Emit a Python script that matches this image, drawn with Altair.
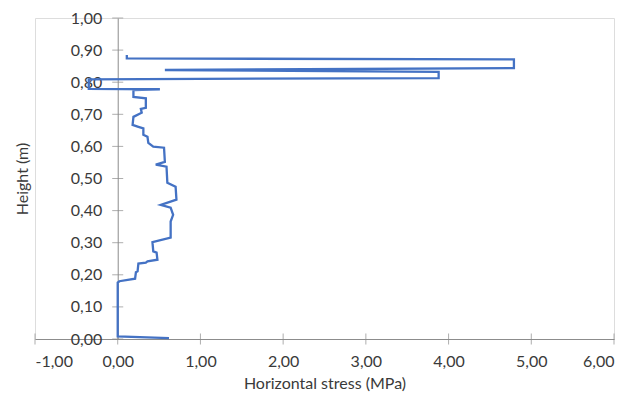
import altair as alt
import pandas as pd

# Horizontal stress (MPa) vs height (m), in drawing order
stress = [0.11, 0.11, 4.79, 4.79, 0.57, 3.88, 3.88, -0.35, -0.35, 0.51,
          0.19, 0.19, 0.34, 0.34, 0.28, 0.29, 0.19, 0.18, 0.25, 0.31,
          0.31, 0.36, 0.37, 0.43, 0.56, 0.57, 0.46, 0.59, 0.60, 0.70,
          0.71, 0.52, 0.64, 0.67, 0.64, 0.64, 0.42, 0.43, 0.47, 0.48,
          0.36, 0.34, 0.25, 0.24, 0.22, 0.21, 0.02, 0.00, 0.00, 0.00,
          0.62]
height = [0.885, 0.874, 0.871, 0.844, 0.838, 0.832, 0.813, 0.809, 0.779, 0.778,
          0.775, 0.754, 0.750, 0.720, 0.717, 0.705, 0.692, 0.667, 0.661, 0.656,
          0.636, 0.630, 0.611, 0.599, 0.596, 0.552, 0.543, 0.537, 0.487, 0.474,
          0.434, 0.418, 0.409, 0.387, 0.366, 0.316, 0.302, 0.273, 0.269, 0.247,
          0.242, 0.238, 0.235, 0.211, 0.208, 0.188, 0.180, 0.176, 0.123, 0.008,
          0.003]

x_ticks = [-1, 0, 1, 2, 3, 4, 5, 6]
y_ticks = [0.0, 0.1, 0.2, 0.3, 0.4, 0.5, 0.6, 0.7, 0.8, 0.9, 1.0]

df = pd.DataFrame({"stress": stress, "height": height, "idx": list(range(len(stress)))})
xt = pd.DataFrame({"stress": x_ticks, "height": [0.0] * len(x_ticks)})
yt = pd.DataFrame({"stress": [0.0] * len(y_ticks), "height": y_ticks})

W, H = 579, 321
FONT = "Lato"
FS = 16
TXT = "#3a3a3a"
AX = "#8c8c8c"
LBL = "replace(replace(format(datum.value, '.2f'), '.', ','), '\u2212', '-')"

x_axis = alt.Axis(values=x_ticks, labelExpr=LBL,
                  title="Horizontal stress (MPa)", grid=False, ticks=False, tickSize=0,
                  domainColor=AX, domainWidth=1, labelPadding=14, titlePadding=6,
                  labelFont=FONT, titleFont=FONT, labelFontSize=FS, titleFontSize=FS,
                  labelColor=TXT, titleColor=TXT, titleFontWeight="normal")
y_axis = alt.Axis(values=y_ticks, labelExpr=LBL,
                  title="Height (m)", grid=False, ticks=False, tickSize=0,
                  domainColor=AX, domainWidth=1, labelPadding=16, titlePadding=40,
                  offset=-W / 7.0,
                  labelFont=FONT, titleFont=FONT, labelFontSize=FS, titleFontSize=FS,
                  labelColor=TXT, titleColor=TXT, titleFontWeight="normal")

xs = alt.Scale(domain=[-1, 6], nice=False, zero=False)
ys = alt.Scale(domain=[0, 1], nice=False, zero=False)

xtick = alt.Chart(xt).mark_tick(orient="vertical", size=11, thickness=1, color=AX).encode(
    x=alt.X("stress:Q", scale=xs, axis=x_axis),
    y=alt.Y("height:Q", scale=ys, axis=y_axis),
)
ytick = alt.Chart(yt).mark_tick(orient="horizontal", size=11, thickness=1, color=AX).encode(
    x=alt.X("stress:Q", scale=xs, axis=x_axis),
    y=alt.Y("height:Q", scale=ys, axis=y_axis),
)
line = alt.Chart(df).mark_line(color="#4472C4", strokeWidth=2.3, clip=False).encode(
    x=alt.X("stress:Q", scale=xs, axis=x_axis),
    y=alt.Y("height:Q", scale=ys, axis=y_axis),
    order=alt.Order("idx:Q"),
)

chart = alt.layer(xtick, ytick, line).properties(
    width=W, height=H,
    autosize=alt.AutoSizeParams(type="none"),
    padding={"left": 35, "top": 18, "right": 27, "bottom": 59},
).configure_view(stroke=None).configure(background="white")

chart.save("out.html", embed_options={"renderer": "svg", "actions": False})
